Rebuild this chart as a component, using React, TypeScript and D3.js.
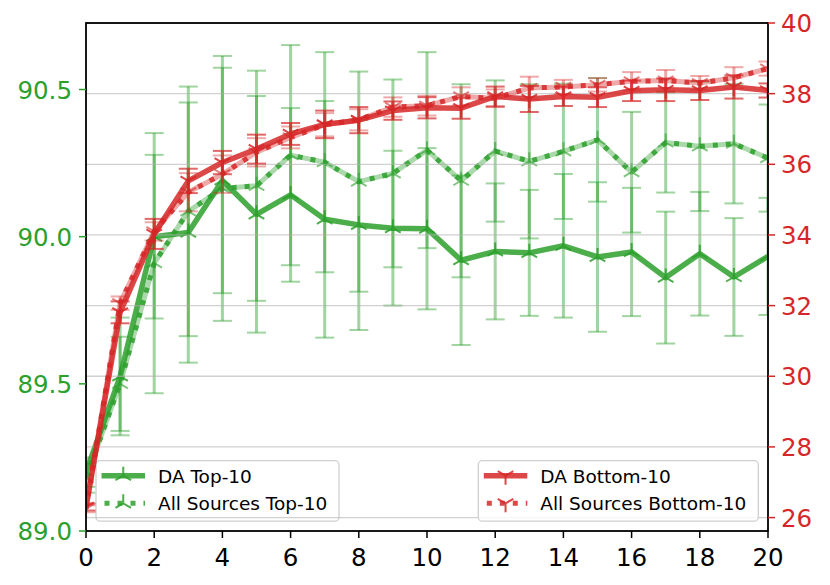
import React from "react";
import * as d3 from "d3";

const epochs = [0, 1, 2, 3, 4, 5, 6, 7, 8, 9, 10, 11, 12, 13, 14, 15, 16, 17, 18, 19, 20];

const daTop = [89.2, 89.525, 90.0, 90.014, 90.191, 90.076, 90.142, 90.059, 90.04, 90.029, 90.027, 89.92, 89.95, 89.945, 89.969, 89.931, 89.948, 89.861, 89.942, 89.863, 89.933];
const daTopErr = [0.05, 0.2, 0.278, 0.442, 0.383, 0.402, 0.295, 0.402, 0.357, 0.263, 0.274, 0.288, 0.231, 0.214, 0.244, 0.254, 0.218, 0.224, 0.21, 0.2, 0.199];

const allTop = [89.18, 89.5, 89.91, 90.086, 90.164, 90.173, 90.277, 90.253, 90.187, 90.215, 90.294, 90.19, 90.291, 90.256, 90.29, 90.329, 90.219, 90.32, 90.307, 90.316, 90.267];
const allTopErr = [0.05, 0.16, 0.442, 0.424, 0.45, 0.391, 0.374, 0.374, 0.374, 0.319, 0.333, 0.328, 0.24, 0.262, 0.23, 0.21, 0.205, 0.17, 0.22, 0.203, 0.182];

const daBottom = [26.3, 31.81, 34.03, 35.53, 36.05, 36.43, 36.86, 37.13, 37.25, 37.52, 37.6, 37.59, 37.92, 37.85, 37.92, 37.9, 38.08, 38.11, 38.09, 38.19, 38.09];
const daBottomErr = [0.1, 0.31, 0.425, 0.345, 0.33, 0.41, 0.31, 0.39, 0.37, 0.26, 0.3, 0.3, 0.28, 0.37, 0.27, 0.28, 0.29, 0.32, 0.27, 0.33, 0.2];

const allBottom = [26.25, 32.07, 34.1, 35.21, 35.72, 36.34, 36.76, 37.12, 37.26, 37.62, 37.66, 37.92, 37.87, 38.16, 38.19, 38.25, 38.35, 38.37, 38.3, 38.45, 38.71];
const allBottomErr = [0.1, 0.19, 0.26, 0.54, 0.53, 0.4, 0.31, 0.33, 0.3, 0.275, 0.28, 0.26, 0.25, 0.32, 0.2, 0.19, 0.26, 0.3, 0.2, 0.3, 0.2];

const xTicks = [0, 2, 4, 6, 8, 10, 12, 14, 16, 18, 20];
const leftTicks = [89.0, 89.5, 90.0, 90.5];
const rightTicks = [26, 28, 30, 32, 34, 36, 38, 40];

const legendLeft = ["DA Top-10", "All Sources Top-10"];
const legendRight = ["DA Bottom-10", "All Sources Bottom-10"];

const GREEN = "#2ca02c";
const RED = "#d62728";
const FONT = "DejaVu Sans, sans-serif";

const W = 830, H = 585;
const L = 86, R = 768, T = 23, B = 531;

const x = d3.scaleLinear().domain([0, 20]).range([L, R]);
const yL = d3.scaleLinear().domain([89.0, 90.726]).range([B, T]);
const yR = d3.scaleLinear().domain([25.62, 40]).range([B, T]);

function triPath(cx: number, cy: number, r: number, up: boolean) {
  const s = up ? 1 : -1;
  const dx = r * 0.866, dy = r * 0.5;
  return `M${cx},${cy}L${cx},${cy - s * r}M${cx},${cy}L${cx - dx},${cy + s * dy}M${cx},${cy}L${cx + dx},${cy + s * dy}`;
}

function ErrorBars({ vals, errs, y, color, opacity }: any) {
  return (
    <g stroke={color} strokeOpacity={opacity} fill="none">
      {epochs.map((e, i) => {
        const cx = x(e);
        const y0 = y(vals[i] - errs[i]);
        const y1 = y(vals[i] + errs[i]);
        return (
          <g key={i}>
            <line x1={cx} x2={cx} y1={y0} y2={y1} strokeWidth={3} />
            <line x1={cx - 9.5} x2={cx + 9.5} y1={y0} y2={y0} strokeWidth={2} />
            <line x1={cx - 9.5} x2={cx + 9.5} y1={y1} y2={y1} strokeWidth={2} />
          </g>
        );
      })}
    </g>
  );
}

function Series({ vals, y, color, dotted, up }: any) {
  const line = d3.line<number>().x((_, i) => x(epochs[i])).y((v) => y(v));
  const d = line(vals) || "";
  return (
    <g>
      {dotted ? (
        <>
          <path d={d} fill="none" stroke={color} strokeOpacity={0.4} strokeWidth={5} strokeLinejoin="round" />
          <path d={d} fill="none" stroke={color} strokeOpacity={0.85} strokeWidth={5} strokeDasharray="5,8" />
        </>
      ) : (
        <path d={d} fill="none" stroke={color} strokeOpacity={0.85} strokeWidth={5.5} strokeLinejoin="round" />
      )}
      <g stroke={color} strokeOpacity={dotted ? 0.6 : 0.85} strokeWidth={2} fill="none">
        {vals.map((v: number, i: number) => (
          <path key={i} d={triPath(x(epochs[i]), y(v), 9, up)} />
        ))}
      </g>
    </g>
  );
}

function Legend({ x0, y0, w, labels, color, up }: any) {
  const h = 60.5;
  return (
    <g>
      <rect x={x0} y={y0} width={w} height={h} rx={4} fill="white" fillOpacity={0.8} stroke="#d0d0d0" strokeWidth={1.3} />
      {labels.map((lab: string, i: number) => {
        const cy = y0 + 15 + i * 27.6;
        const hx0 = x0 + 5.5, hx1 = x0 + 49;
        const mx = (hx0 + hx1) / 2;
        return (
          <g key={i}>
            {i === 0 ? (
              <line x1={hx0} x2={hx1} y1={cy} y2={cy} stroke={color} strokeOpacity={0.85} strokeWidth={5.5} />
            ) : (
              <line x1={hx0 + 3} x2={hx1} y1={cy} y2={cy} stroke={color} strokeOpacity={0.85} strokeWidth={5} strokeDasharray="5,8" />
            )}
            <path d={triPath(mx, cy, 9, up)} stroke={color} strokeOpacity={0.85} strokeWidth={2} fill="none" />
            <text x={x0 + 62} y={cy + 7} fontSize={18.5} fontFamily={FONT} fill="#000">{lab}</text>
          </g>
        );
      })}
    </g>
  );
}

export default function App() {
  return (
    <svg width={W} height={H} style={{ position: "absolute", left: 0, top: 0, background: "white" }}>
      <defs>
        <clipPath id="plot">
          <rect x={L} y={T} width={R - L} height={B - T} />
        </clipPath>
      </defs>
      <rect x={0} y={0} width={W} height={H} fill="white" />
      <g clipPath="url(#plot)">
        <ErrorBars vals={daTop} errs={daTopErr} y={yL} color={GREEN} opacity={0.45} />
        <ErrorBars vals={allTop} errs={allTopErr} y={yL} color={GREEN} opacity={0.45} />
        <Series vals={daTop} y={yL} color={GREEN} up={true} />
        <Series vals={allTop} y={yL} color={GREEN} dotted up={true} />
      </g>
      <Legend x0={96} y0={460.7} w={243} labels={legendLeft} color={GREEN} up={true} />
      <g>
        {rightTicks.map((t) => (
          <line key={t} x1={L} x2={R} y1={yR(t)} y2={yR(t)} stroke="#b0b0b0" strokeOpacity={0.6} strokeWidth={1.3} />
        ))}
      </g>
      <g clipPath="url(#plot)">
        <ErrorBars vals={allBottom} errs={allBottomErr} y={yR} color={RED} opacity={0.4} />
        <ErrorBars vals={daBottom} errs={daBottomErr} y={yR} color={RED} opacity={0.7} />
        <Series vals={daBottom} y={yR} color={RED} up={false} />
        <Series vals={allBottom} y={yR} color={RED} dotted up={false} />
      </g>
      <Legend x0={478.3} y0={460.7} w={280} labels={legendRight} color={RED} up={false} />
      <rect x={L} y={T} width={R - L} height={B - T} fill="none" stroke="#000" strokeWidth={1.8} />
      {xTicks.map((t) => (
        <g key={t}>
          <line x1={x(t)} x2={x(t)} y1={B} y2={B + 7} stroke="#000" strokeWidth={1.5} />
          <text x={x(t)} y={566} textAnchor="middle" fontSize={24.5} fontFamily={FONT} fill="#000">{t}</text>
        </g>
      ))}
      {leftTicks.map((t) => (
        <g key={t}>
          <line x1={L - 7} x2={L} y1={yL(t)} y2={yL(t)} stroke={GREEN} strokeWidth={1.5} />
          <text x={L - 14} y={yL(t) + 9} textAnchor="end" fontSize={24.5} fontFamily={FONT} fill={GREEN}>{t.toFixed(1)}</text>
        </g>
      ))}
      {rightTicks.map((t) => (
        <g key={t}>
          <line x1={R} x2={R + 7} y1={yR(t)} y2={yR(t)} stroke={RED} strokeWidth={1.5} />
          <text x={R + 13} y={yR(t) + 9} textAnchor="start" fontSize={24.5} fontFamily={FONT} fill={RED}>{t}</text>
        </g>
      ))}
    </svg>
  );
}
